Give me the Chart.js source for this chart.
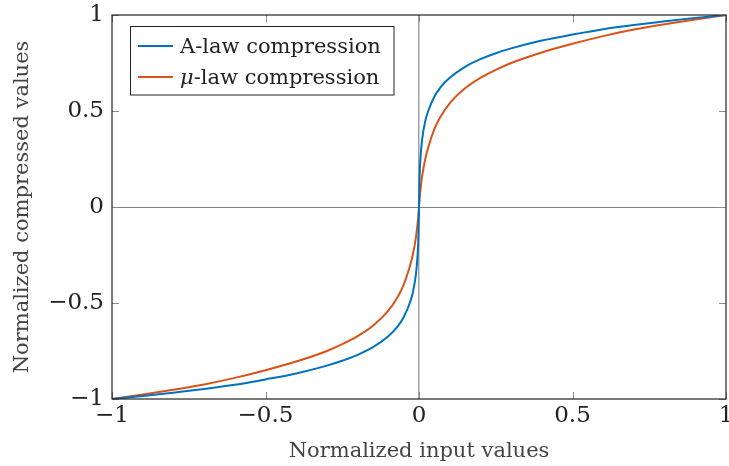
<!DOCTYPE html>
<html>
<head>
<meta charset="utf-8">
<script src="https://cdn.jsdelivr.net/npm/chart.js@4/dist/chart.umd.min.js"></script>
<style>
  html, body { margin: 0; padding: 0; background: #fff; }
  #wrap { width: 729px; height: 466px; }
</style>
</head>
<body>
<div id="wrap"><canvas id="canvas" width="729" height="466"></canvas></div>
<script>
// normalized input (x) and the two compressed outputs (y)
var inputValues = [-1, -0.9, -0.8, -0.7, -0.6, -0.5, -0.4, -0.3, -0.25, -0.2, -0.15, -0.1, -0.07, -0.05, -0.03, -0.02, -0.01, -0.005, -0.002,
                   0, 0.002, 0.005, 0.01, 0.02, 0.03, 0.05, 0.07, 0.1, 0.15, 0.2, 0.25, 0.3, 0.4, 0.5, 0.6, 0.7, 0.8, 0.9, 1];
var aLawValues = [-1, -0.985, -0.967, -0.948, -0.926, -0.898, -0.867, -0.826, -0.801, -0.77, -0.73, -0.673, -0.623, -0.574, -0.5, -0.445, -0.35, -0.26, -0.16,
                  0, 0.16, 0.26, 0.35, 0.445, 0.5, 0.574, 0.623, 0.673, 0.73, 0.77, 0.801, 0.826, 0.867, 0.898, 0.926, 0.948, 0.967, 0.985, 1];
var muLawValues = [-1, -0.977, -0.952, -0.924, -0.89, -0.85, -0.805, -0.75, -0.714, -0.672, -0.618, -0.54, -0.47, -0.405, -0.31, -0.247, -0.158, -0.093, -0.042,
                   0, 0.042, 0.093, 0.158, 0.247, 0.31, 0.405, 0.47, 0.54, 0.618, 0.672, 0.714, 0.75, 0.805, 0.85, 0.89, 0.924, 0.952, 0.977, 1];
var tickValues = [-1, -0.5, 0, 0.5, 1];
var seriesNames = ['A-law compression', 'μ-law compression'];

var serif = "'DejaVu Serif', serif";

function fmt(v) {
    return (v < 0 ? '\u2212' : '') + Math.abs(v);
}

function points(ys) {
    return inputValues.map(function (x, i) { return { x: x, y: ys[i] }; });
}

// only the zero line of each axis is drawn
function zeroLine(col) {
    return function (c) { return c.tick && c.tick.value === 0 ? col : 'rgba(0,0,0,0)'; };
}

// pgfplots-like box: inward tick marks on all four sides + legend in the corner
var boxPlugin = {
    id: 'box',
    afterDatasetsDraw: function (chart) {
        var c = chart.ctx, a = chart.chartArea;
        var sx = chart.scales.x, sy = chart.scales.y;
        c.save();
        c.strokeStyle = '#8c8c8c';
        c.lineWidth = 1;
        c.beginPath();
        tickValues.forEach(function (v) {
            var px = Math.round(sx.getPixelForValue(v)) + 0.5;
            c.moveTo(px, a.bottom); c.lineTo(px, a.bottom - 7);
            c.moveTo(px, a.top); c.lineTo(px, a.top + 7);
            var py = Math.round(sy.getPixelForValue(v)) + 0.5;
            c.moveTo(a.left, py); c.lineTo(a.left + 7, py);
            c.moveTo(a.right, py); c.lineTo(a.right - 7, py);
        });
        c.stroke();

        c.strokeStyle = '#222';
        c.lineWidth = 1.2;
        c.strokeRect(a.left, a.top, a.right - a.left, a.bottom - a.top);

        // legend
        var lx = a.left + 18.5, ly = a.top + 11.5;
        c.fillStyle = '#fff';
        c.fillRect(lx, ly, 263.5, 68.5);
        c.strokeStyle = '#222';
        c.lineWidth = 1;
        c.strokeRect(lx, ly, 263.5, 68.5);
        chart.data.datasets.forEach(function (ds, i) {
            var yy = ly + 19.5 + i * 31;
            c.strokeStyle = ds.borderColor;
            c.lineWidth = 2;
            c.beginPath();
            c.moveTo(lx + 7.5, yy); c.lineTo(lx + 42.5, yy);
            c.stroke();
            c.fillStyle = '#222';
            c.textBaseline = 'alphabetic';
            var tx = lx + 49.5, label = ds.label;
            if (label.charAt(0) === 'μ') {
                c.font = 'italic 21px ' + serif;
                c.fillText('μ', tx, yy + 7);
                tx += c.measureText('μ').width;
                label = label.slice(1);
            }
            c.font = '21px ' + serif;
            c.fillText(label, tx, yy + 7);
        });
        c.restore();
    }
};

var ctx = document.getElementById('canvas');
new Chart(ctx, {
    type: 'line',
    data: {
        datasets: [{
            label: seriesNames[0],
            data: points(aLawValues),
            borderColor: '#0072bd',
            borderWidth: 2,
            pointRadius: 0,
            fill: false,
            cubicInterpolationMode: 'monotone'
        }, {
            label: seriesNames[1],
            data: points(muLawValues),
            borderColor: '#d95319',
            borderWidth: 2,
            pointRadius: 0,
            fill: false,
            cubicInterpolationMode: 'monotone'
        }]
    },
    options: {
        responsive: false,
        animation: false,
        devicePixelRatio: 1,
        layout: { padding: { left: 0, right: 3, top: 15, bottom: 1 } },
        plugins: { legend: { display: false }, tooltip: { enabled: false } },
        scales: {
            x: {
                type: 'linear', min: -1, max: 1,
                afterBuildTicks: function (s) { s.ticks = tickValues.map(function (v) { return { value: v }; }); },
                afterFit: function (s) { s.height = 66; s.paddingLeft = 0; s.paddingRight = 0; },
                grid: { drawTicks: false, color: zeroLine('#a0a0a0'), lineWidth: 1.5 },
                border: { display: false },
                ticks: { padding: 3, color: '#222', autoSkip: false, maxRotation: 0, font: { family: serif, size: 23 }, callback: fmt },
                title: { display: true, text: 'Normalized input values', color: '#444', font: { family: serif, size: 21 }, padding: { top: 0, bottom: 1 } }
            },
            y: {
                type: 'linear', min: -1, max: 1,
                afterBuildTicks: function (s) { s.ticks = tickValues.map(function (v) { return { value: v }; }); },
                afterFit: function (s) { s.width = 112; s.paddingTop = 0; s.paddingBottom = 0; },
                grid: { drawTicks: false, color: zeroLine('#808080'), lineWidth: 1 },
                border: { display: false },
                ticks: { padding: 8, color: '#222', autoSkip: false, font: { family: serif, size: 23 }, callback: fmt },
                title: { display: true, text: 'Normalized compressed values', color: '#444', font: { family: serif, size: 21 }, padding: { top: 10, bottom: 0 } }
            }
        }
    },
    plugins: [boxPlugin]
});
</script>
</body>
</html>
